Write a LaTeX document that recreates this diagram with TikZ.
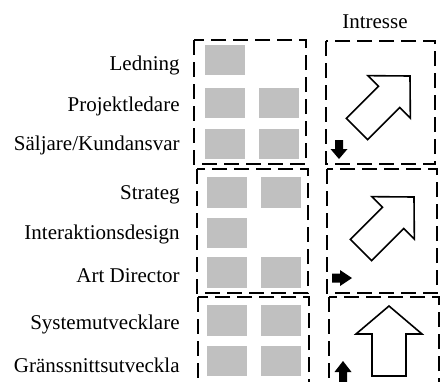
\documentclass[tikz,border=0pt]{standalone}
\usepackage{fontspec}
\setmainfont{Liberation Serif}
\definecolor{cellgray}{RGB}{192,192,192}

% Outline of a block arrow with its tip at the origin, pointing along +x:
% #1 total length, #2 head length, #3 head half-width, #4 shaft half-width
\newcommand\blockarrowshape[4]{(0,0) -- (-#2,#3) -- (-#2,#4) -- (-#1,#4) -- (-#1,-#4) -- (-#2,-#4) -- (-#2,-#3) -- cycle}

\tikzset{
  grp/.style={draw=black, line width=1pt, dash pattern=on 7.5pt off 3.5pt},
  cell/.style={fill=cellgray, draw=none},
  lbl/.style={anchor=base east, inner sep=0pt, font=\fontsize{10.5}{12}\selectfont},
  bigarrow/.style={draw=black, line width=0.8pt, fill=white, line join=miter},
  smallarrow/.style={fill=black, draw=none}
}

\begin{document}
\begin{tikzpicture}[x=0.5pt,y=-0.5pt]
\useasboundingbox (0,0) rectangle (440,381);
\clip (0,0) rectangle (440,381);

% role labels
\node[lbl] (ledning) at (180,70) {Ledning};
\node[lbl] (projekt) at (180,111) {Projektledare};
\node[lbl] (saljare) at (180,150) {Säljare/Kundansvar};
\node[lbl] (strateg) at (180,199) {Strateg};
\node[lbl] (interaktion) at (180,239) {Interaktionsdesign};
\node[lbl] (artdir) at (180,282) {Art Director};
\node[lbl] (system) at (180,329) {Systemutvecklare};
\node[lbl] (granssnitt) at (180,372) {Gränssnittsutveckla};
\node[anchor=base, inner sep=0pt, font=\fontsize{10.5}{12}\selectfont] (intresse) at (375,28) {Intresse};

% group frames, left column
\draw[grp] (194,40) rectangle (306,164);
\draw[grp] (197,169) rectangle (308,293);
\draw[grp] (198,297) rectangle (309,400);

% group frames, right column
\draw[grp] (326,41) rectangle (435,164);
\draw[grp] (327,169) rectangle (437,293);
\draw[grp] (329,297) rectangle (439,400);

% staffing cells, first group
\fill[cell] (205,45) rectangle (245,75);
\fill[cell] (205,88) rectangle (245,118);
\fill[cell] (259,88) rectangle (299,118);
\fill[cell] (205,129) rectangle (245,159);
\fill[cell] (259,129) rectangle (299,159);

% staffing cells, second group
\fill[cell] (207,177) rectangle (247,208);
\fill[cell] (261,177) rectangle (301,208);
\fill[cell] (207,218) rectangle (247,248);
\fill[cell] (207,257) rectangle (247,288);
\fill[cell] (261,257) rectangle (301,288);

% staffing cells, third group
\fill[cell] (207,305) rectangle (247,336);
\fill[cell] (261,305) rectangle (301,336);
\fill[cell] (207,346) rectangle (247,376);
\fill[cell] (261,346) rectangle (301,376);

% interest arrows
\draw[bigarrow, shift={(410,76)}, rotate=45] \blockarrowshape{75}{29.5}{30}{15};
\draw[bigarrow, shift={(414,197)}, rotate=45] \blockarrowshape{75}{29.5}{30}{15};
\draw[bigarrow, shift={(389,306)}, rotate=90] \blockarrowshape{70}{28}{33}{17};

% trend markers
\fill[smallarrow, shift={(339,159)}, rotate=-90] \blockarrowshape{19}{10}{8.5}{4};
\fill[smallarrow, shift={(352,278)}, rotate=0] \blockarrowshape{20}{12}{8}{4.5};
\fill[smallarrow, shift={(343,361)}, rotate=90] \blockarrowshape{22}{11}{8.5}{4};
\end{tikzpicture}
\end{document}
